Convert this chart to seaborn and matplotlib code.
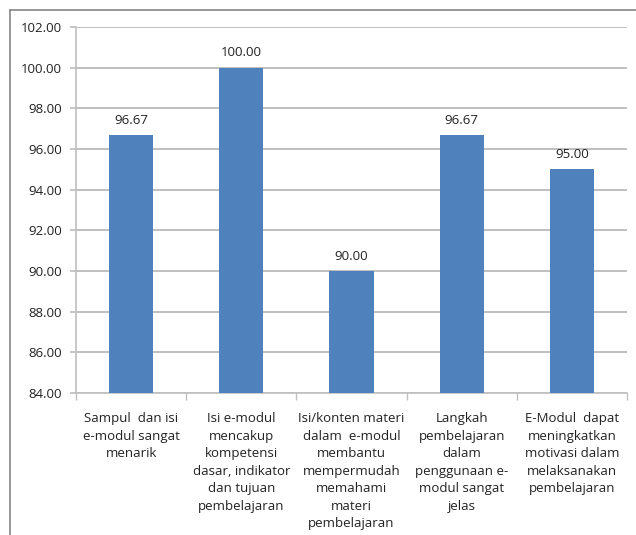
import matplotlib
matplotlib.use("Agg")
import matplotlib.pyplot as plt
import seaborn as sns
import pandas as pd
from matplotlib.lines import Line2D

categories = [
    "Sampul  dan isi\ne-modul sangat\nmenarik",
    "Isi e-modul\nmencakup\nkompetensi\ndasar, indikator\ndan tujuan\npembelajaran",
    "Isi/konten materi\ndalam  e-modul\nmembantu\nmempermudah\nmemahami\nmateri\npembelajaran",
    "Langkah\npembelajaran\ndalam\npenggunaan e-\nmodul sangat\njelas",
    "E-Modul  dapat\nmeningkatkan\nmotivasi dalam\nmelaksanakan\npembelajaran",
]
values = [96.67, 100.00, 90.00, 96.67, 95.00]
yticks = [84, 86, 88, 90, 92, 94, 96, 98, 100, 102]

sns.set_theme(style="white")
plt.rcParams['font.family'] = ['Open Sans', 'DejaVu Sans']

df = pd.DataFrame({"cat": categories, "val": values})

fig = plt.figure(figsize=(6.36, 5.35), dpi=100)
ax = fig.add_axes([76/636, 1 - 393/535, (627 - 76)/636, (393 - 27)/535])

sns.barplot(data=df, x="cat", y="val", color="#4F81BD", saturation=1,
            width=0.4, ax=ax, zorder=3, linewidth=0, edgecolor="none")

ax.set_ylim(84, 102)
ax.set_xlim(-0.5, len(categories) - 0.5)
ax.set_yticks(yticks)
ax.set_yticklabels([f"{v:.2f}" for v in yticks], fontsize=9.5, color="#222222")
ax.set_xticks(range(len(categories)))
ax.set_xticklabels(categories, fontsize=9.5, color="#222222", linespacing=1.45)
ax.set_xlabel("")
ax.set_ylabel("")

ax.yaxis.grid(True, color="#BFBFBF", linewidth=1.4, zorder=0)
ax.set_axisbelow(True)

for s in ["top", "right"]:
    ax.spines[s].set_visible(False)
ax.spines["left"].set_color("#BFBFBF")
ax.spines["bottom"].set_color("#BFBFBF")
ax.spines["left"].set_linewidth(1.2)
ax.spines["bottom"].set_linewidth(1.2)

ax.tick_params(axis="y", which="major", left=True, length=4, color="#BFBFBF", pad=6)
ax.tick_params(axis="x", which="major", bottom=False, pad=8)
ax.set_xticks([i - 0.5 for i in range(len(categories) + 1)], minor=True)
ax.tick_params(axis="x", which="minor", bottom=True, length=5, color="#BFBFBF")

for p, v in zip(ax.patches, values):
    ax.annotate(f"{v:.2f}", (p.get_x() + p.get_width()/2, p.get_height()),
                xytext=(0, 6), textcoords="offset points", ha="center", va="bottom",
                fontsize=9.5, color="#222222")

fig.add_artist(Line2D([10/636, 1], [1 - 10/535, 1 - 10/535], transform=fig.transFigure,
                      color="#868686", linewidth=1.2))
fig.add_artist(Line2D([10/636, 10/636], [0, 1 - 10/535], transform=fig.transFigure,
                      color="#868686", linewidth=1.2))

fig.savefig("out.png", dpi=100)
